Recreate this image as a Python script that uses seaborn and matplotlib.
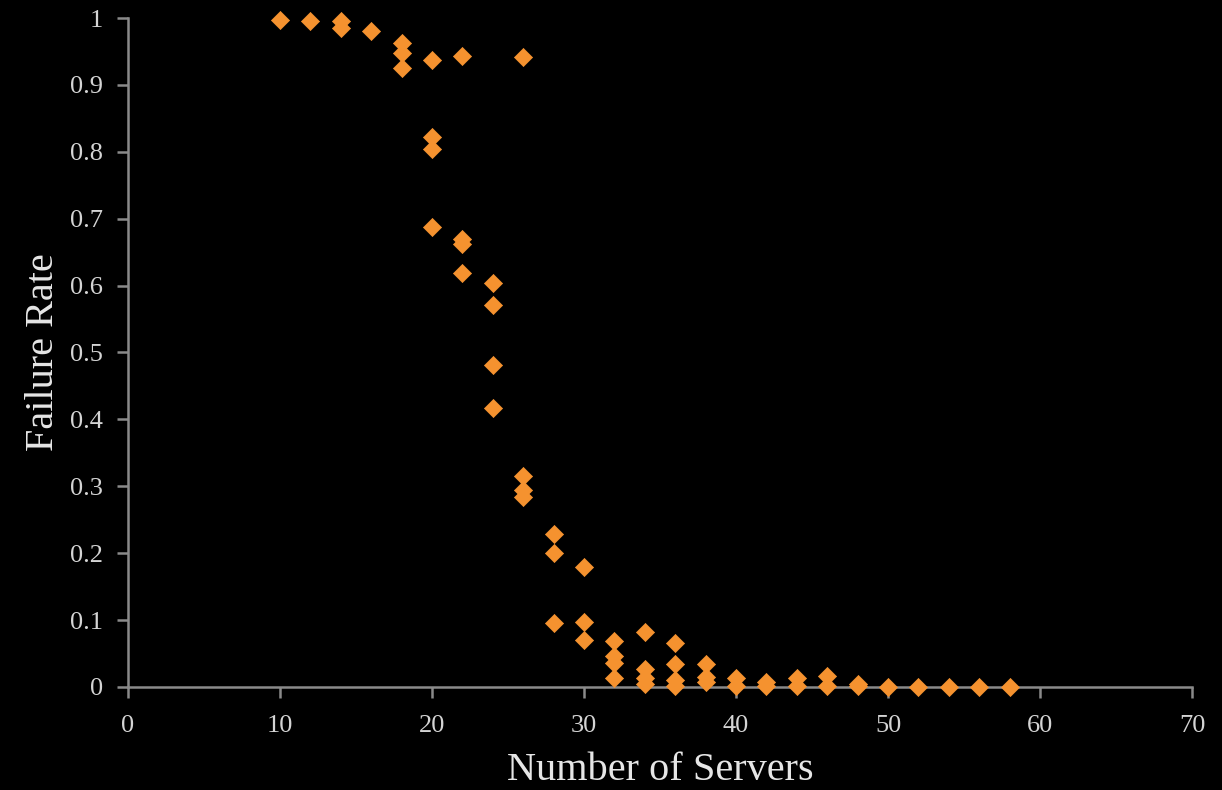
import matplotlib
matplotlib.use("Agg")
import matplotlib.pyplot as plt
import seaborn as sns
import pandas as pd

# Simulated failure rate for each tested server count
servers = [10, 12, 14, 14, 16,
           18, 18, 18,
           20, 20, 20, 20,
           22, 22, 22, 22,
           24, 24, 24, 24,
           26, 26, 26, 26,
           28, 28, 28,
           30, 30, 30,
           32, 32, 32, 32,
           34, 34, 34, 34,
           36, 36, 36, 36,
           38, 38, 38,
           40, 40,
           42, 42,
           44, 44,
           46, 46,
           48, 48,
           50, 52, 54, 56, 58]
failure_rate = [0.997, 0.995, 0.995, 0.985, 0.980,
                0.963, 0.948, 0.926,
                0.937, 0.822, 0.804, 0.688,
                0.943, 0.670, 0.662, 0.619,
                0.604, 0.571, 0.481, 0.417,
                0.942, 0.316, 0.294, 0.284,
                0.229, 0.201, 0.096,
                0.179, 0.097, 0.070,
                0.068, 0.047, 0.036, 0.013,
                0.082, 0.027, 0.014, 0.004,
                0.066, 0.034, 0.010, 0.001,
                0.034, 0.015, 0.008,
                0.014, 0.001,
                0.008, 0.001,
                0.013, 0.001,
                0.017, 0.001,
                0.004, 0.001,
                0.000, 0.000, 0.000, 0.000, 0.000]

x_ticks = [0, 10, 20, 30, 40, 50, 60, 70]
y_ticks = [0, 0.1, 0.2, 0.3, 0.4, 0.5, 0.6, 0.7, 0.8, 0.9, 1]
y_tick_labels = ["0", "0.1", "0.2", "0.3", "0.4", "0.5", "0.6", "0.7", "0.8", "0.9", "1"]

df = pd.DataFrame({"Number of Servers": servers, "Failure Rate": failure_rate})

sns.set_style("dark")
plt.rcParams["font.family"] = ["Liberation Serif", "DejaVu Serif"]

BG = "#000000"
AXIS = "#8a8a8a"
TEXT = "#d4d4d4"
ORANGE = "#f5922f"

fig = plt.figure(figsize=(12.22, 7.90), dpi=100, facecolor=BG)
ax = fig.add_axes([0.1047, 0.1304, 0.8708, 0.8468], facecolor=BG)

sns.scatterplot(data=df, x="Number of Servers", y="Failure Rate", ax=ax,
                marker="D", s=85, color=ORANGE, edgecolor=ORANGE,
                linewidth=0.5, clip_on=False, zorder=5, legend=False)

ax.set_xlim(0, 70)
ax.set_ylim(0, 1)
ax.set_xticks(x_ticks)
ax.set_xticklabels([str(t) for t in x_ticks])
ax.set_yticks(y_ticks)
ax.set_yticklabels(y_tick_labels)
ax.grid(False)

for side in ("top", "right"):
    ax.spines[side].set_visible(False)
for side in ("left", "bottom"):
    ax.spines[side].set_visible(True)
    ax.spines[side].set_color(AXIS)
    ax.spines[side].set_linewidth(1.8)

ax.tick_params(axis="both", which="major", direction="out", length=8,
               width=1.8, color=AXIS, labelcolor=TEXT, labelsize=19,
               bottom=True, left=True)
ax.tick_params(axis="x", pad=12)
ax.tick_params(axis="y", pad=10)

ax.set_xlabel("Number of Servers", fontsize=29, color="#e6e6e6", labelpad=11)
ax.set_ylabel("Failure Rate", fontsize=29, color="#e6e6e6", labelpad=6)

fig.savefig("out.png", dpi=100, facecolor=BG)
